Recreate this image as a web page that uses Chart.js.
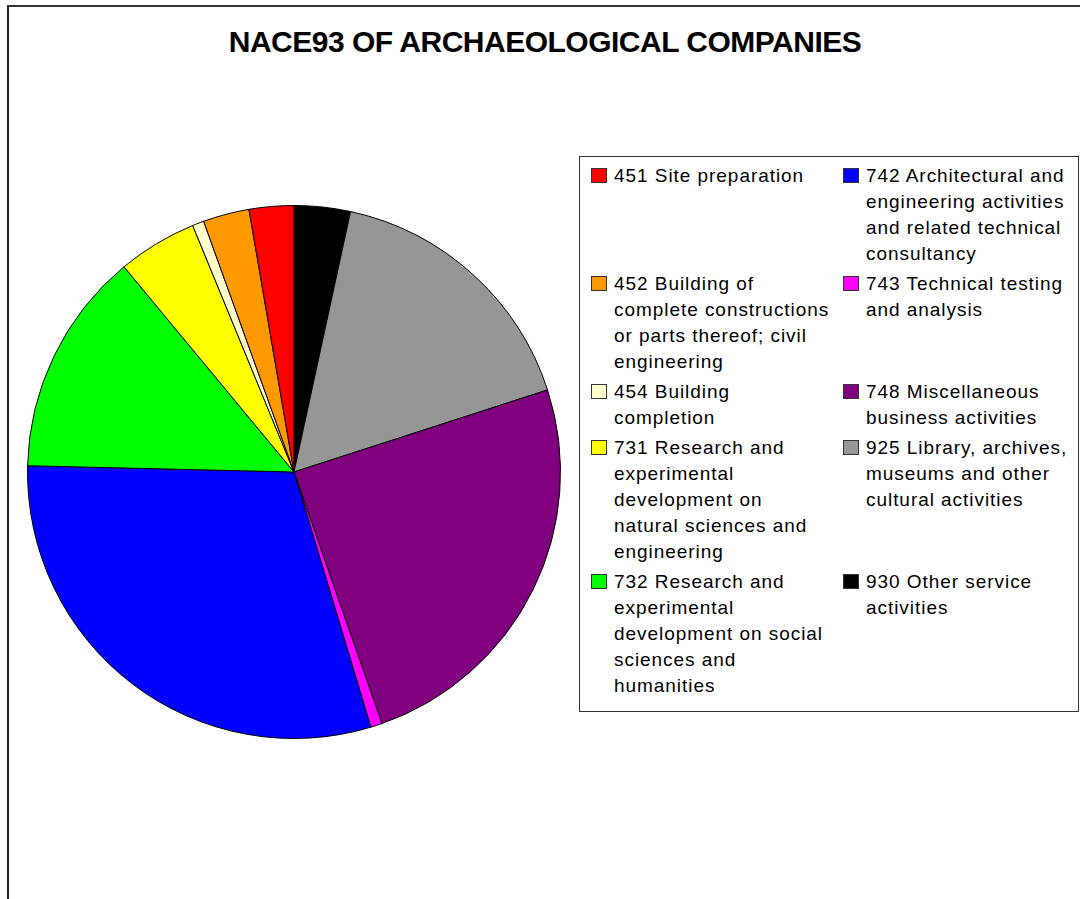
<!DOCTYPE html>
<html>
<head>
<meta charset="utf-8">
<script src="https://cdn.jsdelivr.net/npm/chart.js@4"></script>
<style>
  body { margin: 0; background: #fff; font-family: 'Liberation Sans', Arial, sans-serif; }
  .frame { position: absolute; left: 7px; top: 5px; width: 1200px; height: 1000px;
    border-left: 2px solid #222; border-top: 2px solid #333; }
  .title { position: absolute; left: 0; width: 1090px; top: 25px; text-align: center;
    font-weight: bold; font-size: 30px; letter-spacing: -0.5px; color: #000; }
  .pie-box { position: absolute; left: 27px; top: 205px; width: 534px; height: 534px; }
  .legend { position: absolute; left: 579px; top: 156px; width: 500px; height: 556px;
    border: 1px solid #333; box-sizing: border-box; }
  .item { position: absolute; font-size: 19px; line-height: 26px; letter-spacing: 0.95px; color: #000; }
  .sw { position: absolute; width: 14px; height: 13px; border: 1px solid #333; top: 5px; }
  .txt { position: absolute; white-space: nowrap; }
</style>
</head>
<body>
<div class="frame"></div>
<div class="title">NACE93 OF ARCHAEOLOGICAL COMPANIES</div>
<div class="pie-box"><canvas id="pie"></canvas></div>
<div class="legend" id="legend"></div>
<script>
const codes = ['451', '452', '454', '731', '732', '742', '743', '748', '925', '930'];
const labels = [
  ['451 Site preparation'],
  ['452 Building of', 'complete constructions', 'or parts thereof; civil', 'engineering'],
  ['454 Building', 'completion'],
  ['731 Research and', 'experimental', 'development on', 'natural sciences and', 'engineering'],
  ['732 Research and', 'experimental', 'development on social', 'sciences and', 'humanities'],
  ['742 Architectural and', 'engineering activities', 'and related technical', 'consultancy'],
  ['743 Technical testing', 'and analysis'],
  ['748 Miscellaneous', 'business activities'],
  ['925 Library, archives,', 'museums and other', 'cultural activities'],
  ['930 Other service', 'activities']
];
// share of companies, %
const shares = [2.7, 2.8, 0.7, 4.8, 13.6, 30.0, 0.7, 24.6, 16.6, 3.4];
const colors = ['#FF0000', '#FF9900', '#FFFFCC', '#FFFF00', '#00FF00',
                '#0000FF', '#FF00FF', '#800080', '#969696', '#000000'];

// Excel draws the series counter-clockwise from 12 o'clock, so feed it reversed
const rev = arr => arr.slice().reverse();

new Chart(document.getElementById('pie'), {
  type: 'pie',
  data: {
    labels: rev(codes),
    datasets: [{
      data: rev(shares),
      backgroundColor: rev(colors),
      borderColor: '#000',
      borderWidth: 1
    }]
  },
  options: {
    responsive: true,
    maintainAspectRatio: false,
    animation: false,
    layout: { padding: 0 },
    plugins: { legend: { display: false }, tooltip: { enabled: false }, title: { display: false } }
  }
});

// legend: two columns, rows share the height of the taller item
const legend = document.getElementById('legend');
const rowTops = [6];
for (let r = 0; r < 5; r++) {
  const h = Math.max(labels[r].length, labels[r + 5].length) * 26 + 4;
  rowTops.push(rowTops[r] + h);
}
codes.forEach((code, i) => {
  const col = i < 5 ? 0 : 1;
  const row = i % 5;
  const item = document.createElement('div');
  item.className = 'item';
  item.style.left = (col === 0 ? 11 : 263) + 'px';
  item.style.top = rowTops[row] + 'px';
  const sw = document.createElement('div');
  sw.className = 'sw';
  sw.style.background = colors[i];
  sw.style.left = '0px';
  const txt = document.createElement('div');
  txt.className = 'txt';
  txt.style.left = '23px';
  txt.innerHTML = labels[i].join('<br>');
  item.appendChild(sw);
  item.appendChild(txt);
  legend.appendChild(item);
});
</script>
</body>
</html>
